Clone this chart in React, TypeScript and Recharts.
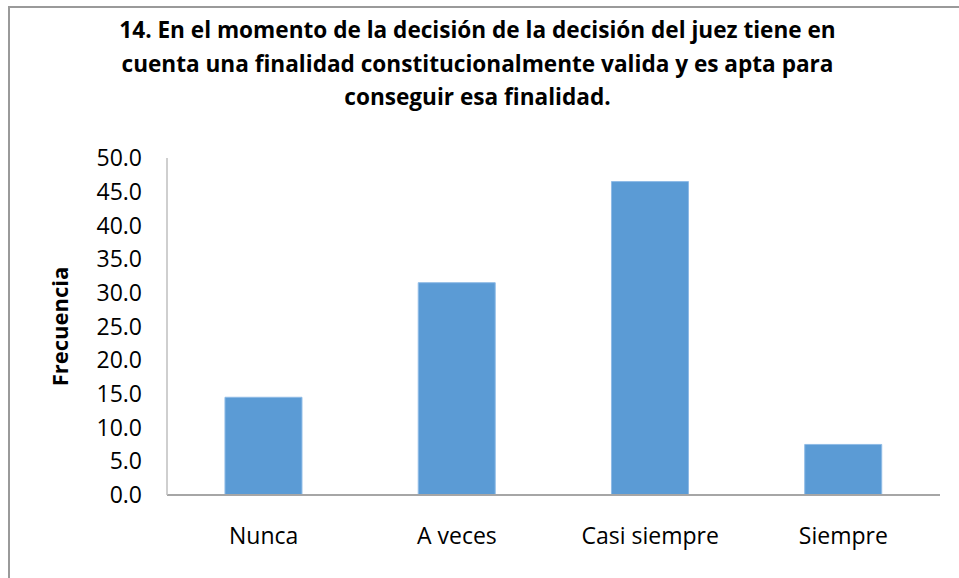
import React from 'react';
import { BarChart, Bar, XAxis, YAxis, Label } from 'recharts';

const categories = ['Nunca', 'A veces', 'Casi siempre', 'Siempre'];
const frecuencia = [14.5, 31.5, 46.5, 7.5];
const yTicks = [0, 5, 10, 15, 20, 25, 30, 35, 40, 45, 50];
const titleLines = [
  '14. En el momento de la decisión de la decisión del juez tiene en',
  'cuenta una finalidad constitucionalmente valida y es apta para',
  'conseguir esa finalidad.',
];

const data = categories.map((name, i) => ({ name, value: frecuencia[i] }));

const FONT = '"Open Sans", sans-serif';

export default function App() {
  return (
    <div style={{ position: 'absolute', left: 0, top: 0, width: 959, height: 578, background: '#fff', overflow: 'hidden' }}>
      {/* frame, cut off on the right and bottom */}
      <div style={{ position: 'absolute', left: 8, top: 6, width: 960, height: 600, borderLeft: '2px solid #9a9a9a', borderTop: '2px solid #9a9a9a' }} />

      <div style={{ position: 'absolute', left: 0, top: 13, width: 955, textAlign: 'center', fontFamily: FONT, fontWeight: 700, fontSize: 22.6, lineHeight: '33.5px', color: '#000' }}>
        {titleLines.map((t) => (
          <div key={t}>{t}</div>
        ))}
      </div>

      <div style={{ position: 'absolute', left: 0, top: 0 }}>
        <BarChart width={959} height={578} data={data} margin={{ top: 158, right: 19, left: 0, bottom: 0 }} barCategoryGap="30%">
          <XAxis
            dataKey="name"
            height={83}
            axisLine={{ stroke: '#a6a6a6', strokeWidth: 2 }}
            tickLine={false}
            tickMargin={27}
            tick={{ fontFamily: FONT, fontSize: 23, fill: '#000' }}
            interval={0}
          />
          <YAxis
            width={167}
            domain={[0, 50]}
            ticks={yTicks}
            interval={0}
            tickFormatter={(v: number) => v.toFixed(1)}
            axisLine={{ stroke: '#bfbfbf', strokeWidth: 1.5 }}
            tickLine={false}
            tickMargin={19}
            tick={{ fontFamily: FONT, fontSize: 23, fill: '#000' }}
          >
            <Label
              value="Frecuencia"
              angle={-90}
              position="insideLeft"
              offset={60}
              style={{ fontFamily: FONT, fontWeight: 700, fontSize: 22, fill: '#000', textAnchor: 'middle' }}
            />
          </YAxis>
          <Bar dataKey="value" fill="#5b9bd5" stroke="#8fbbe6" strokeWidth={1} isAnimationActive={false} />
        </BarChart>
      </div>
    </div>
  );
}
